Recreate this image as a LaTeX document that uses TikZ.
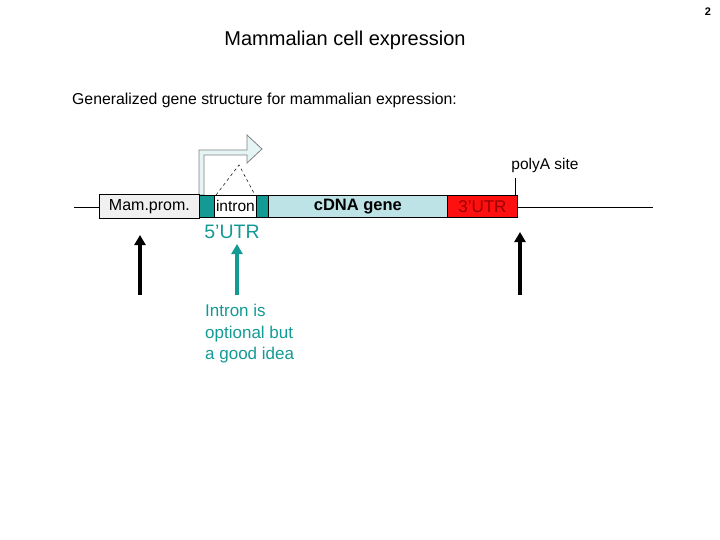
\documentclass[tikz,border=0pt]{standalone}
\usepackage{fontspec}
\setmainfont{Liberation Sans}
\usetikzlibrary{arrows.meta}
\definecolor{tealc}{HTML}{139A94}
\definecolor{cdna}{HTML}{BDE3E6}
\definecolor{utr}{HTML}{FF1010}
\begin{document}
\begin{tikzpicture}[x=1pt,y=-1pt,
  box/.style={draw=black, line width=0.8pt, inner sep=0pt, anchor=north west},
  up/.style={-{Triangle[width=11pt,length=10pt]}, line width=3.5pt}]
\useasboundingbox (0,0) rectangle (720,540);
\node[font=\bfseries\fontsize{11}{12}\selectfont] (pg) at (708,12) {2};
\node[font=\fontsize{20}{22}\selectfont] (title) at (345,40) {Mammalian cell expression};
\node[font=\fontsize{15.8}{18}\selectfont, anchor=west, inner sep=0pt] (sub) at (72,100) {Generalized gene structure for mammalian expression:};
\coordinate (l0) at (74,207); \coordinate (l1) at (653,207);
\draw[line width=0.8pt] (l0) -- (l1);
% bent arrow
\draw[draw=gray, fill=cdna!40, line width=0.8pt] (199,195) -- (199,150) -- (247,150) -- (247,135) -- (262,149) -- (247,163) -- (247,155) -- (204,155) -- (204,195) -- cycle;
\draw[dashed, line width=0.5pt] (216,195) -- (239,165) -- (255,195);
\node[box, fill=black!6, minimum width=100pt, minimum height=24pt, font=\fontsize{16}{18}\selectfont] (prom) at (99,194) {Mam.prom.};
\node[box, fill=tealc, minimum width=15pt, minimum height=22pt] (t1) at (199,195) {};
\node[box, fill=white, minimum width=42pt, minimum height=22pt, font=\fontsize{15.5}{17}\selectfont] (intron) at (214,195) {intron};
\node[box, fill=tealc, minimum width=12pt, minimum height=22pt] (t2) at (256,195) {};
\node[box, fill=cdna, minimum width=179pt, minimum height=22pt, font=\bfseries\fontsize{16.5}{18}\selectfont] (cdna) at (268,195) {cDNA gene};
\node[box, fill=utr, text=red!60!black, minimum width=70pt, minimum height=22pt, font=\fontsize{17}{18}\selectfont] (utr3) at (447,195) {3'UTR};
\coordinate (pa) at (515,178); \coordinate (pb) at (515,195);
\draw[line width=0.8pt] (pa) -- (pb);
\node[font=\fontsize{15.5}{17}\selectfont] (polya) at (545,165) {polyA site};
\node[text=tealc, font=\fontsize{19.5}{21}\selectfont] (utr5) at (232,232) {5'UTR};
\coordinate (a0) at (140,295); \coordinate (a1) at (140,235);
\coordinate (b0) at (520,295); \coordinate (b1) at (520,232);
\coordinate (c0) at (237,295); \coordinate (c1) at (237,244);
\draw[up] (a0) -- (a1);
\draw[up] (b0) -- (b1);
\draw[up, tealc] (c0) -- (c1);
\node[text=tealc, font=\fontsize{17}{21.5}\selectfont, anchor=north west, align=left, inner sep=0pt] (note) at (205,304) {Intron is\\optional but\\a good idea};
\end{tikzpicture}
\end{document}
